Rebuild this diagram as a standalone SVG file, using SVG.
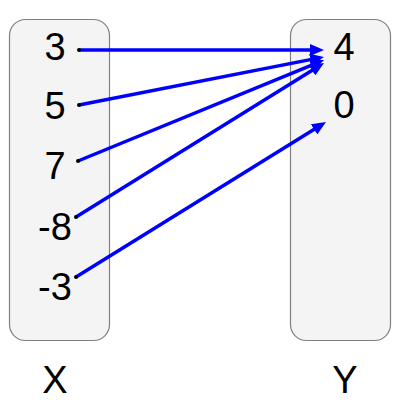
<svg xmlns="http://www.w3.org/2000/svg" width="400" height="400" viewBox="0 0 400 400">
<style>
.box{fill:#f4f4f4;stroke:#808080;stroke-width:1.2}
.lbl{font-family:"Liberation Sans",Arial,sans-serif;font-size:38px;fill:#000;text-anchor:middle}
.edge{stroke:#0000ff;stroke-width:3.5;fill:none;marker-end:url(#ah)}
.dot{fill:#000}
</style>
<defs>
<marker id="ah" viewBox="0 0 14 12" refX="4" refY="6" markerWidth="14" markerHeight="12" markerUnits="userSpaceOnUse" orient="auto">
<path d="M0,0 L14,6 L0,12 z" fill="#0000ff"/>
</marker>
</defs>
<rect width="400" height="400" fill="#fff"/>
<g id="setX">
<rect class="box" x="9.5" y="19.5" width="100" height="321" rx="16"/>
<text class="lbl" x="55" y="393">X</text>
</g>
<g id="setY">
<rect class="box" x="290.5" y="19.5" width="100" height="321" rx="16"/>
<text class="lbl" x="345" y="393">Y</text>
</g>
<g id="n3"><text class="lbl" x="55" y="60">3</text></g>
<g id="n5"><text class="lbl" x="55" y="119">5</text></g>
<g id="n7"><text class="lbl" x="55" y="179">7</text></g>
<g id="nm8"><text class="lbl" x="55" y="240">-8</text></g>
<g id="nm3"><text class="lbl" x="55" y="300">-3</text></g>
<g id="n4"><text class="lbl" x="344" y="60">4</text></g>
<g id="n0"><text class="lbl" x="344" y="118">0</text></g>
<g id="connectors">
<line class="edge" x1="79" y1="50" x2="314" y2="50"/>
<line class="edge" x1="79" y1="105" x2="314.2" y2="58.9"/>
<line class="edge" x1="78" y1="161" x2="314.8" y2="63.8"/>
<line class="edge" x1="76" y1="217" x2="315.5" y2="68.3"/>
<line class="edge" x1="76" y1="277" x2="317.5" y2="127.3"/>
<circle class="dot" cx="79" cy="50" r="2"/>
<circle class="dot" cx="79" cy="105" r="2"/>
<circle class="dot" cx="78" cy="161" r="2"/>
<circle class="dot" cx="76" cy="217" r="2"/>
<circle class="dot" cx="76" cy="277" r="2"/>
</g>
</svg>
